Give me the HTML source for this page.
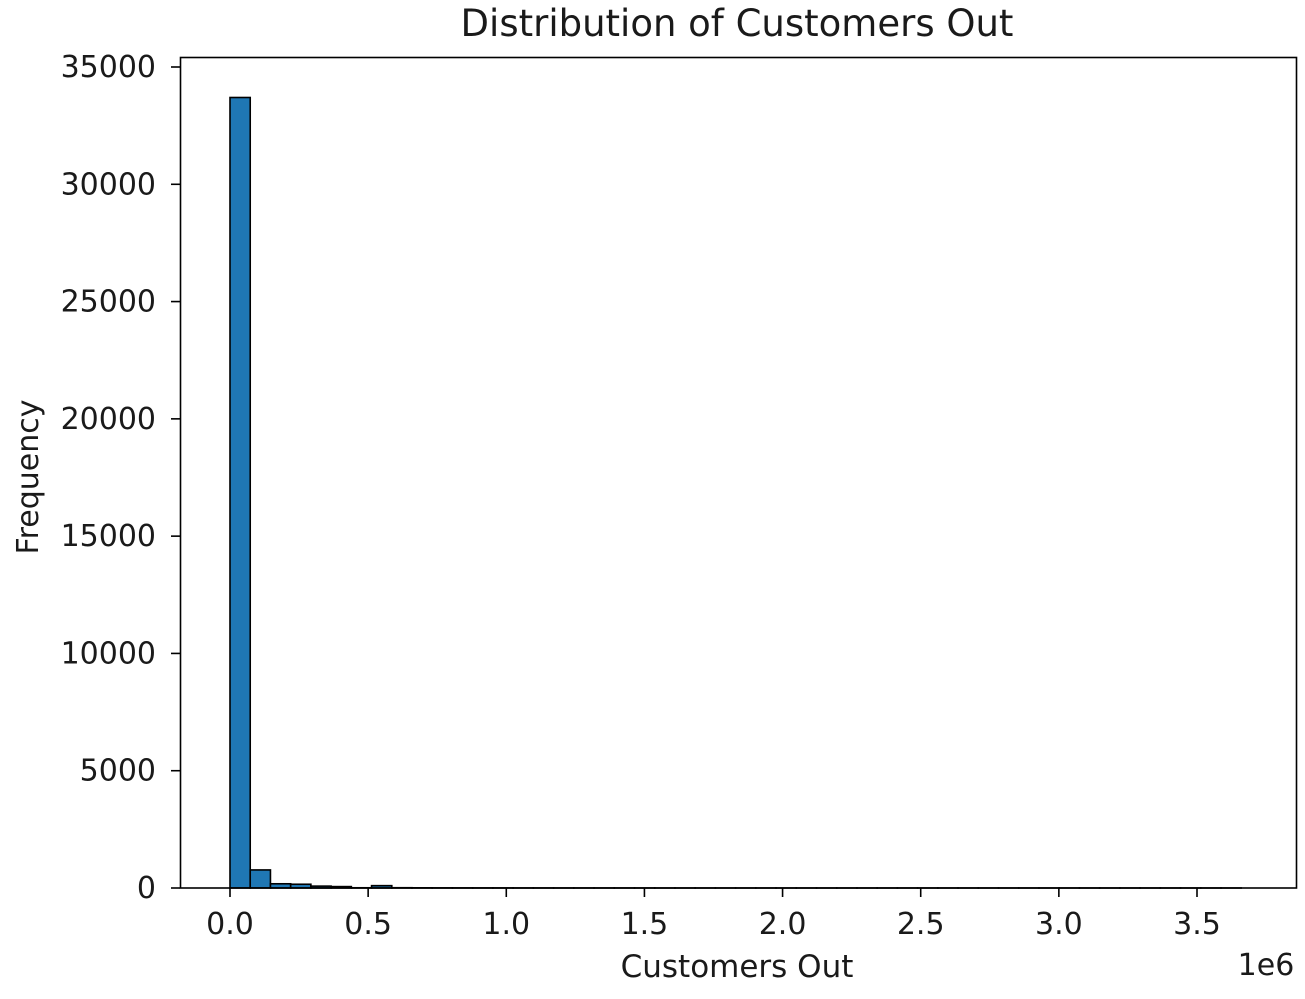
<!DOCTYPE html>
<html><head><meta charset="utf-8"><style>
html,body{margin:0;padding:0;background:#fff;}
svg text{font-family:"DejaVu Sans","Liberation Sans",sans-serif;fill:#1a1a1a;}
</style></head><body>
<svg id="chart" width="1305" height="994">
<text x="737" y="36" font-size="37" text-anchor="middle">Distribution of Customers Out</text>
<text x="737" y="977" font-size="31" text-anchor="middle">Customers Out</text>
<text x="1266" y="975" font-size="30" text-anchor="middle">1e6</text>
<text transform="translate(38,477) rotate(-90)" font-size="30" text-anchor="middle">Frequency</text>
<g id="bars"></g>
<g id="ticks"></g>
<rect x="180.5" y="57.5" width="1116" height="830.5" fill="none" stroke="#000" stroke-width="1.6"/>
</svg>
<script>
const counts = [33700,770,180,160,80,60,10,100,12,8,6,5,4,4,3,3,2,2,2,2,2,1,1,1,1,1,1,1,1,1,1,1,1,1,1,1,1,1,1,1,1,1,1,1,1,1,1,1,1,1];
const binMin = [0];
const binMax = [3.66];
const xTicks = [0,0.5,1.0,1.5,2.0,2.5,3.0,3.5];
const xTickLabels = ["0.0","0.5","1.0","1.5","2.0","2.5","3.0","3.5"];
const yTicks = [0,5000,10000,15000,20000,25000,30000,35000];
const yTickLabels = ["0","5000","10000","15000","20000","25000","30000","35000"];
const NS="http://www.w3.org/2000/svg";
const xs = v => 230 + v*(1197-230)/3.5;
const ys = v => 888 - v*(888-67)/35000;
const bars=document.getElementById('bars'), ticks=document.getElementById('ticks');
const w=(binMax[0]-binMin[0])/counts.length;
counts.forEach((c,i)=>{
  const x0=xs(binMin[0]+i*w), x1=xs(binMin[0]+(i+1)*w);
  const r=document.createElementNS(NS,'rect');
  r.setAttribute('x',x0);r.setAttribute('y',ys(c));
  r.setAttribute('width',x1-x0);r.setAttribute('height',ys(0)-ys(c));
  r.setAttribute('fill','#1f77b4');r.setAttribute('stroke','#000');r.setAttribute('stroke-width','1.6');
  
  
  bars.appendChild(r);
});
xTicks.forEach((t,i)=>{
  const l=document.createElementNS(NS,'line');
  l.setAttribute('x1',xs(t));l.setAttribute('x2',xs(t));l.setAttribute('y1',888);l.setAttribute('y2',897);
  l.setAttribute('stroke','#000');l.setAttribute('stroke-width','1.6');
  
  
  ticks.appendChild(l);
  const tx=document.createElementNS(NS,'text');
  tx.setAttribute('x',xs(t));tx.setAttribute('y',934);tx.setAttribute('font-size','30');tx.setAttribute('text-anchor','middle');
  tx.textContent=xTickLabels[i];
  
  
  ticks.appendChild(tx);
});
yTicks.forEach((t,i)=>{
  const l=document.createElementNS(NS,'line');
  l.setAttribute('x1',171);l.setAttribute('x2',180);l.setAttribute('y1',ys(t));l.setAttribute('y2',ys(t));
  l.setAttribute('stroke','#000');l.setAttribute('stroke-width','1.6');
  
  
  ticks.appendChild(l);
  const tx=document.createElementNS(NS,'text');
  tx.setAttribute('x',156);tx.setAttribute('y',ys(t)+10);tx.setAttribute('font-size','30');tx.setAttribute('text-anchor','end');
  tx.textContent=yTickLabels[i];
  
  
  ticks.appendChild(tx);
});
</script>
</body></html>
